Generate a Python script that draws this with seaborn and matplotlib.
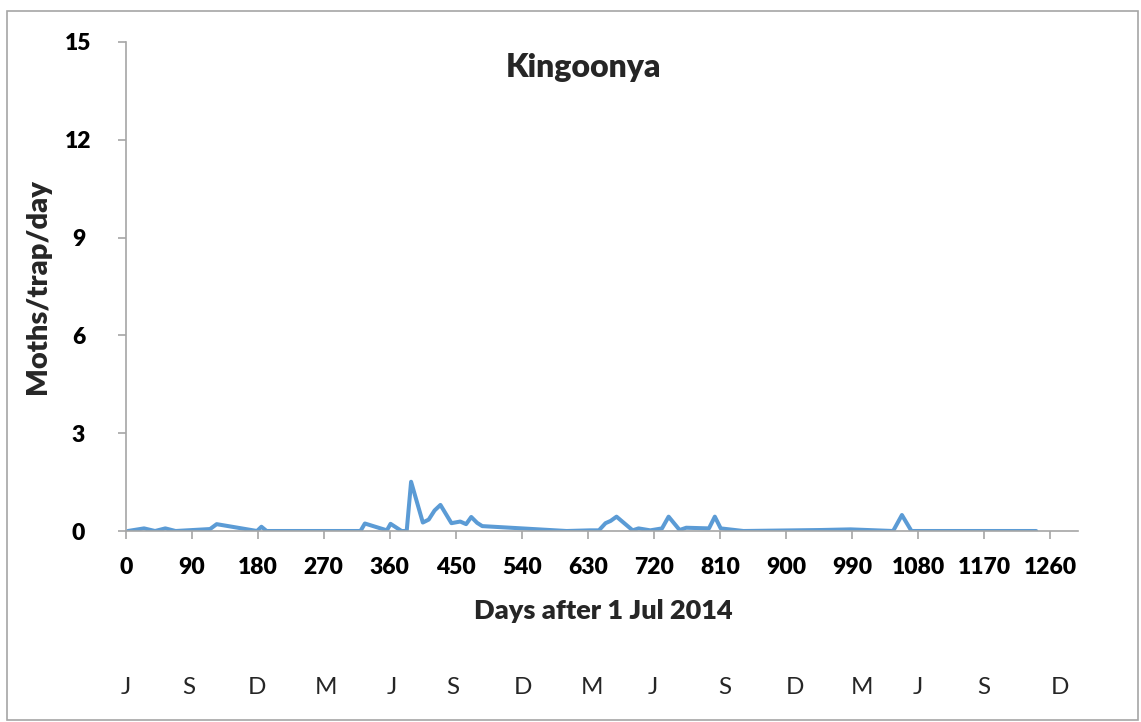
import matplotlib
matplotlib.use("Agg")
import matplotlib.pyplot as plt
import seaborn as sns
import pandas as pd
from matplotlib.patches import Rectangle

# ---- data ----
days = [3, 25, 40, 54, 68, 115, 124, 179, 185, 192, 320, 326, 356, 361, 376, 383,
        389, 405, 413, 421, 429, 444, 456, 464, 471, 479, 486, 540, 601, 633, 645,
        654, 661, 669, 691, 699, 715, 731, 740, 755, 764, 795, 803, 811, 842, 947,
        988, 1046, 1058, 1071, 1241]
moths = [0.0, 0.08, 0.0, 0.08, 0.0, 0.06, 0.21, 0.0, 0.13, 0.0, 0.0, 0.23, 0.02, 0.22,
         0.0, 0.0, 1.51, 0.26, 0.35, 0.63, 0.80, 0.24, 0.29, 0.21, 0.43, 0.25, 0.15,
         0.08, 0.0, 0.02, 0.02, 0.24, 0.31, 0.44, 0.02, 0.08, 0.02, 0.08, 0.44, 0.03,
         0.10, 0.08, 0.44, 0.08, 0.0, 0.03, 0.05, 0.0, 0.49, 0.0, 0.0]
x_ticks = [0, 90, 180, 270, 360, 450, 540, 630, 720, 810, 900, 990, 1080, 1170, 1260]
y_ticks = [0, 3, 6, 9, 12, 15]
month_labels = ["J", "S", "D", "M", "J", "S", "D", "M", "J", "S", "D", "M", "J", "S", "D"]
month_days = [0, 86, 179, 273, 363, 446, 542, 635, 719, 816, 912, 1004, 1080, 1170, 1273]
title = "Kingoonya"
x_label = "Days after 1 Jul 2014"
y_label = "Moths/trap/day"

df = pd.DataFrame({"day": days, "moths": moths})

sns.set_theme(style="white")
plt.rcParams["font.family"] = ["Lato", "DejaVu Sans"]

W, H = 1141, 722
fig = plt.figure(figsize=(W / 100, H / 100), dpi=100)
axw = 1078 - 125.7
axh = 531 - 42
ax = fig.add_axes([125.7 / W, 1 - 531 / H, axw / W, axh / H])

sns.lineplot(data=df, x="day", y="moths", ax=ax, color="#5B9BD5", linewidth=2.9)

BW = "heavy"
ax.set_xlim(0, 1298)
ax.set_ylim(0, 15)
ax.set_xticks(x_ticks)
ax.set_yticks(y_ticks)
ax.set_xticklabels([str(t) for t in x_ticks], fontsize=16.5, fontweight=BW)
ax.set_yticklabels([str(t) for t in y_ticks], fontsize=16.5, fontweight=BW)
for s in ["top", "right"]:
    ax.spines[s].set_visible(False)
for s in ["left", "bottom"]:
    ax.spines[s].set_color("#a6a6a6")
    ax.spines[s].set_linewidth(1.2)
ax.tick_params(axis="x", direction="out", length=6, width=1.2, color="#a6a6a6",
               pad=13, labelcolor="black", bottom=True)
ax.tick_params(axis="y", direction="out", length=6, width=1.2, color="#a6a6a6",
               pad=28, labelcolor="black", left=True)
for lbl in ax.get_yticklabels():
    lbl.set_horizontalalignment("center")
ax.set_xlabel(x_label, fontsize=19.5, fontweight=BW)
ax.set_ylabel(y_label, fontsize=21, fontweight=BW)
ax.yaxis.set_label_coords(-88 / axw, (531 - 287) / axh)
ax.xaxis.set_label_coords((603 - 125.7) / axw, -(611 - 531) / axh)
ax.xaxis.label.set_verticalalignment("center")
ax.yaxis.label.set_verticalalignment("center")

ax.text((583 - 125.7) / axw, (531 - 67) / axh, title,
        transform=ax.transAxes, ha="center", va="center", fontsize=23, fontweight=BW)

tr = ax.get_xaxis_transform()
for lab, d in zip(month_labels, month_days):
    ax.text(d, -(688 - 531) / axh, lab, transform=tr, ha="center", va="center",
            fontsize=17.5, clip_on=False)

fig.patches.append(Rectangle((7 / W, 1 - 720 / H), (1138 - 7) / W, (720 - 11) / H,
                             transform=fig.transFigure, fill=False,
                             edgecolor="#a6a6a6", linewidth=1.2))

fig.savefig("out.png", dpi=100, facecolor="white")
